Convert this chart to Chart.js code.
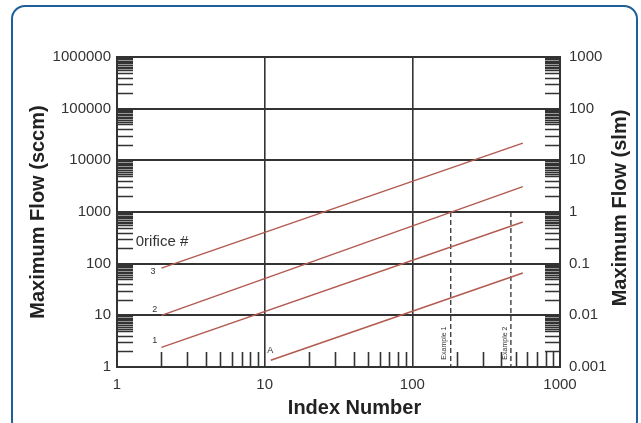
<!DOCTYPE html>
<html>
<head>
<meta charset="utf-8">
<script src="https://cdn.jsdelivr.net/npm/chart.js@4.4.0/dist/chart.umd.min.js"></script>
<style>
  html, body { margin: 0; padding: 0; background: #fff; }
  #card {
    position: absolute; left: 11px; top: 5px; width: 627px; height: 430px;
    border: 2px solid #1d5f98; border-radius: 14px; box-sizing: border-box;
  }
  #wrap { position: absolute; left: 0; top: 0; width: 641px; height: 423px; }
</style>
</head>
<body>
<div id="card"></div>
<div id="wrap"><canvas id="flowChart" width="641" height="423"></canvas></div>
<script>
// axis decades and tick labels
const xDecades = [1, 10, 100, 1000];
const yDecades = [1, 10, 100, 1000, 10000, 100000, 1000000];
const rightDecades = [0.001, 0.01, 0.1, 1, 10, 100, 1000];
const rightLabels = ['0.001', '0.01', '0.1', '1', '10', '100', '1000'];
const xMinorSteps = [2, 3, 4, 5, 6, 7, 8, 9];
const yMinorSteps = [2, 3, 4, 5, 5.5, 6, 6.5, 7, 7.5, 8, 8.5, 9, 9.5];

// orifice lines (index number -> max flow sccm)
const orifice3 = [{ x: 2, y: 82 }, { x: 560, y: 21500 }];
const orifice2 = [{ x: 2, y: 10 }, { x: 560, y: 3100 }];
const orifice1 = [{ x: 2, y: 2.4 }, { x: 560, y: 640 }];
const orificeA = [{ x: 11, y: 1.35 }, { x: 560, y: 66 }];

// example index numbers (dashed verticals)
const example1 = [{ x: 182, y: 1000 }, { x: 182, y: 1 }];
const example2 = [{ x: 465, y: 1000 }, { x: 465, y: 1 }];

// text notes placed in data space
const lineLabels = [
    { text: '3', x: 1.75, y: 69 },
    { text: '2', x: 1.8, y: 12.7 },
    { text: '1', x: 1.8, y: 3.2 },
    { text: 'A', x: 10.9, y: 2.1 }
];
const exampleLabels = [
    { text: 'Example 1', x: 164, y: 2.9 },
    { text: 'Example 2', x: 424, y: 2.9 }
];
const orificeTitle = { text: '0rifice #', x: 1.34, y: 263 };
const xTitle = 'Index Number';
const rightTitle = 'Maximum Flow (slm)';

const RED = '#b35a50';
const INK = '#333333';
const FAMILY = '"Liberation Sans", Arial, sans-serif';

function isDecade(v) {
    const l = Math.log10(v);
    return Math.abs(l - Math.round(l)) < 1e-9;
}

function buildTicks(decades, steps) {
    const ticks = [];
    decades.forEach((d, i) => {
        ticks.push({ value: d, major: true });
        if (i < decades.length - 1) {
            steps.forEach(s => ticks.push({ value: d * s, major: false }));
        }
    });
    return ticks;
}

// short tick marks drawn inward from the axes, plus the text notes
const inwardTicks = {
    id: 'inwardTicks',
    afterDatasetsDraw(chart) {
        const { ctx, chartArea: a, scales } = chart;
        ctx.save();
        ctx.strokeStyle = INK;
        ctx.lineWidth = 1.6;
        ctx.beginPath();
        scales.x.ticks.forEach(t => {
            if (t.major) return;
            const px = Math.round(scales.x.getPixelForValue(t.value)) + 0.5;
            ctx.moveTo(px, a.bottom);
            ctx.lineTo(px, a.bottom - 15);
        });
        scales.y.ticks.forEach(t => {
            if (t.major) return;
            const py = Math.round(scales.y.getPixelForValue(t.value)) + 0.5;
            ctx.moveTo(a.left, py);
            ctx.lineTo(a.left + 16, py);
        });
        scales.y2.ticks.forEach(t => {
            if (t.major) return;
            const py = Math.round(scales.y2.getPixelForValue(t.value)) + 0.5;
            ctx.moveTo(a.right, py);
            ctx.lineTo(a.right - 15, py);
        });
        ctx.stroke();

        const sx = scales.x, sy = scales.y;
        ctx.fillStyle = INK;
        ctx.textAlign = 'center';
        ctx.textBaseline = 'middle';
        ctx.font = '9px ' + FAMILY;
        lineLabels.forEach(l => {
            ctx.fillText(l.text, sx.getPixelForValue(l.x), sy.getPixelForValue(l.y));
        });
        ctx.font = '7px ' + FAMILY;
        exampleLabels.forEach(l => {
            ctx.save();
            ctx.translate(sx.getPixelForValue(l.x), sy.getPixelForValue(l.y));
            ctx.rotate(-Math.PI / 2);
            ctx.fillText(l.text, 0, 0);
            ctx.restore();
        });
        ctx.textAlign = 'left';
        ctx.font = '15px ' + FAMILY;
        ctx.fillText(orificeTitle.text, sx.getPixelForValue(orificeTitle.x), sy.getPixelForValue(orificeTitle.y));

        // axis titles that Chart.js would place differently
        ctx.fillStyle = '#222';
        ctx.textAlign = 'center';
        ctx.font = 'bold 20px ' + FAMILY;
        ctx.fillText(xTitle, (a.left + a.right) / 2 + 16, 408);
        ctx.save();
        ctx.translate(620, (a.top + a.bottom) / 2 - 4);
        ctx.rotate(-Math.PI / 2);
        ctx.fillText(rightTitle, 0, 0);
        ctx.restore();
        ctx.restore();
    }
};

const tickFont = { family: FAMILY, size: 15 };
const titleFont = { family: FAMILY, size: 20, weight: 'bold' };

function redLine(data) {
    return { data, borderColor: RED, borderWidth: 1.5, pointRadius: 0, fill: false };
}
function dashLine(data) {
    return { data, borderColor: INK, borderWidth: 1.3, borderDash: [5, 3], pointRadius: 0, fill: false };
}

new Chart(document.getElementById('flowChart'), {
    type: 'line',
    data: {
        datasets: [
            redLine(orifice3), redLine(orifice2), redLine(orifice1), redLine(orificeA),
            dashLine(example1), dashLine(example2)
        ]
    },
    options: {
        responsive: false,
        animation: false,
        layout: { padding: { top: 57, left: 0, right: 0, bottom: 0 } },
        plugins: { legend: { display: false }, tooltip: { enabled: false } },
        scales: {
            x: {
                type: 'logarithmic',
                min: 1, max: 1000,
                afterBuildTicks: s => { s.ticks = buildTicks(xDecades, xMinorSteps); },
                afterFit: s => { s.height = 56; },
                grid: {
                    drawTicks: false,
                    color: c => (c.tick && isDecade(c.tick.value)) ? INK : 'rgba(0,0,0,0)',
                    lineWidth: 1.6
                },
                border: { color: INK, width: 2 },
                ticks: {
                    autoSkip: false, maxRotation: 0, padding: 9,
                    color: INK, font: tickFont,
                    callback: v => isDecade(v) ? String(v) : ''
                }
            },
            y: {
                type: 'logarithmic',
                position: 'left',
                min: 1, max: 1000000,
                afterBuildTicks: s => { s.ticks = buildTicks(yDecades, yMinorSteps); },
                afterFit: s => { s.width = 117; },
                grid: {
                    drawTicks: false,
                    color: c => (c.tick && isDecade(c.tick.value)) ? INK : 'rgba(0,0,0,0)',
                    lineWidth: 2
                },
                border: { color: INK, width: 2 },
                ticks: {
                    autoSkip: false, padding: 6,
                    color: INK, font: tickFont,
                    callback: v => isDecade(v) ? String(v) : ''
                },
                title: { display: true, text: 'Maximum Flow (sccm)', color: '#222', font: titleFont, padding: { top: 26, bottom: 0 } }
            },
            y2: {
                type: 'logarithmic',
                position: 'right',
                min: 0.001, max: 1000,
                afterBuildTicks: s => { s.ticks = buildTicks(rightDecades, yMinorSteps); },
                afterFit: s => { s.width = 81; },
                grid: { drawTicks: false, drawOnChartArea: false },
                border: { color: INK, width: 2 },
                ticks: {
                    autoSkip: false, padding: 9,
                    color: INK, font: tickFont,
                    callback: v => {
                        const i = rightDecades.findIndex(d => Math.abs(d - v) / d < 1e-6);
                        return i >= 0 ? rightLabels[i] : '';
                    }
                }
            }
        }
    },
    plugins: [inwardTicks]
});
</script>
</body>
</html>
